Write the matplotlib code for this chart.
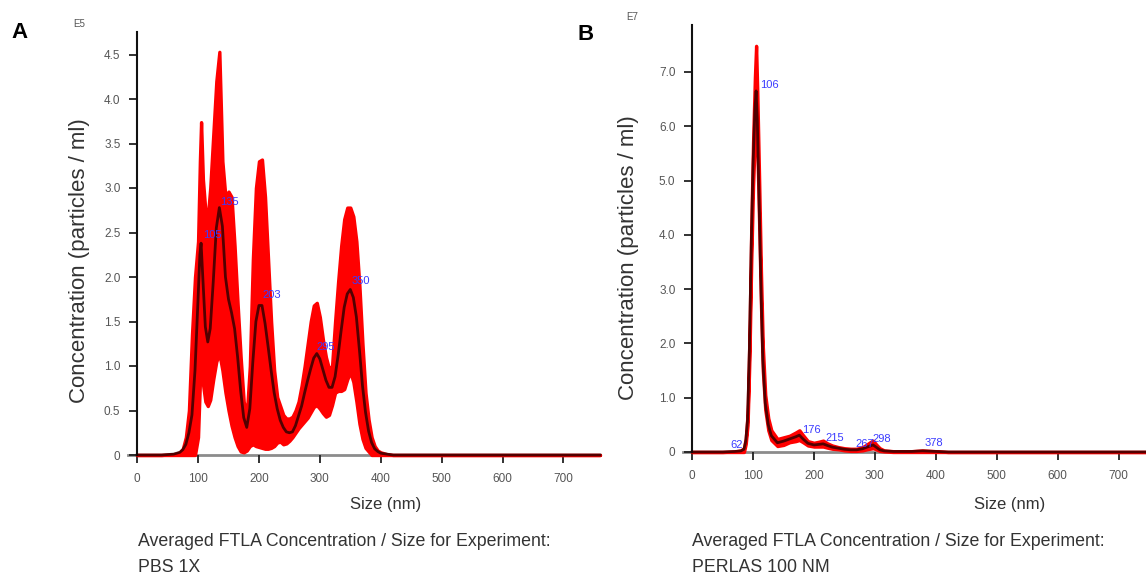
import matplotlib
matplotlib.use("Agg")
import matplotlib.pyplot as plt
import numpy as np

plt.rcParams['font.family'] = ['Liberation Sans', 'DejaVu Sans']

# ---------------- Panel A data (PBS 1X), concentration in E5 particles/ml ----------------
size_a = [0, 40, 60, 70, 75, 80, 85, 90, 95, 100, 103, 105, 108, 112, 116, 120, 125, 130, 135,
          140, 145, 150, 155, 160, 165, 170, 175, 180, 185, 190, 195, 200, 205, 210, 215, 220,
          225, 230, 235, 240, 245, 250, 255, 260, 265, 270, 275, 280, 285, 290, 295, 300, 305,
          310, 315, 320, 325, 330, 335, 340, 345, 350, 355, 360, 365, 370, 375, 380, 385, 390,
          395, 400, 410, 420, 450, 760]
mean_a = [0, 0, 0.01, 0.03, 0.06, 0.12, 0.25, 0.45, 0.95, 1.75, 2.25, 2.38, 1.97, 1.44, 1.27, 1.42,
          1.95, 2.55, 2.78, 2.57, 2.0, 1.75, 1.6, 1.42, 1.1, 0.72, 0.42, 0.31, 0.52, 1.05, 1.5,
          1.68, 1.68, 1.48, 1.22, 0.95, 0.7, 0.52, 0.39, 0.31, 0.26, 0.25, 0.26, 0.33, 0.44, 0.55,
          0.7, 0.84, 0.97, 1.09, 1.14, 1.08, 0.96, 0.84, 0.76, 0.76, 0.88, 1.12, 1.4, 1.66, 1.81,
          1.86, 1.77, 1.55, 1.18, 0.78, 0.48, 0.27, 0.14, 0.07, 0.04, 0.02, 0.01, 0, 0, 0]
upper_a = [0, 0, 0.01, 0.03, 0.07, 0.2, 0.5, 1.35, 2.0, 2.4, 3.3, 3.74, 3.1, 2.75, 2.68, 3.0,
           3.6, 4.2, 4.53, 3.3, 2.9, 2.96, 2.9, 2.35, 1.7, 1.1, 0.6, 0.45, 1.0, 2.2, 3.0,
           3.3, 3.32, 2.9, 2.2, 1.5, 0.95, 0.65, 0.55, 0.45, 0.41, 0.41, 0.43, 0.5, 0.6, 0.78,
           1.0, 1.25, 1.5, 1.68, 1.71, 1.55, 1.3, 1.1, 0.97, 1.0, 1.5, 1.95, 2.35, 2.65, 2.78,
           2.78, 2.68, 2.4, 1.9, 1.25, 0.7, 0.4, 0.2, 0.1, 0.05, 0.03, 0.01, 0, 0, 0]
lower_a = [0, 0, 0, 0, 0, 0, 0, 0, 0, 0.2, 0.8, 0.98, 0.8, 0.6, 0.55, 0.62,
           0.85, 1.05, 1.14, 0.95, 0.7, 0.5, 0.33, 0.2, 0.1, 0.04, 0.03, 0.05, 0.1, 0.12, 0.1,
           0.09, 0.08, 0.07, 0.07, 0.08, 0.1, 0.14, 0.15, 0.12, 0.13, 0.16, 0.2, 0.25, 0.3, 0.34,
           0.38, 0.42, 0.48, 0.54, 0.56, 0.52, 0.47, 0.43, 0.45, 0.56, 0.7, 0.72, 0.72, 0.74, 0.85,
           0.93, 0.82, 0.6, 0.35, 0.18, 0.08, 0.04, 0, 0, 0, 0, 0, 0, 0, 0]
peak_labels_a = ["105", "135", "203", "295", "350"]
peak_x_a = [108, 137, 205, 295, 352]
peak_y_a = [2.47, 2.84, 1.80, 1.21, 1.96]
yticks_a = [0, 0.5, 1.0, 1.5, 2.0, 2.5, 3.0, 3.5, 4.0, 4.5]
yticklabels_a = ["0", "0.5", "1.0", "1.5", "2.0", "2.5", "3.0", "3.5", "4.0", "4.5"]

# ---------------- Panel B data (PERLAS 100 NM), concentration in E7 particles/ml ----------------
size_b = [0, 50, 70, 80, 85, 88, 91, 94, 97, 100, 103, 105, 107, 110, 113, 116, 120, 125, 130,
          140, 150, 160, 170, 176, 182, 190, 200, 208, 215, 222, 230, 240, 250, 260, 270, 280,
          287, 292, 297, 302, 308, 315, 330, 360, 378, 400, 420, 745]
mean_b = [0, 0, 0.01, 0.02, 0.05, 0.2, 0.6, 1.9, 3.8, 5.3, 6.3, 6.65, 6.1, 4.6, 3.0, 1.7, 0.9,
          0.5, 0.3, 0.17, 0.2, 0.24, 0.28, 0.31, 0.24, 0.16, 0.13, 0.14, 0.15, 0.12, 0.09, 0.07,
          0.05, 0.04, 0.04, 0.06, 0.09, 0.11, 0.13, 0.09, 0.04, 0.02, 0.01, 0.01, 0.02, 0.01, 0, 0]
upper_b = [0, 0, 0.01, 0.03, 0.07, 0.25, 0.7, 2.1, 4.1, 5.7, 6.9, 7.48, 6.6, 5.0, 3.3, 1.95, 1.05,
           0.62, 0.4, 0.24, 0.27, 0.3, 0.36, 0.4, 0.31, 0.2, 0.17, 0.19, 0.21, 0.16, 0.12, 0.09,
           0.07, 0.06, 0.06, 0.09, 0.14, 0.18, 0.21, 0.14, 0.07, 0.03, 0.015, 0.015, 0.03, 0.015, 0, 0]
lower_b = [0, 0, 0, 0, 0, 0.15, 0.5, 1.7, 3.5, 4.9, 5.8, 6.0, 5.6, 4.2, 2.7, 1.5, 0.78,
           0.4, 0.22, 0.11, 0.13, 0.18, 0.2, 0.22, 0.18, 0.12, 0.1, 0.1, 0.1, 0.08, 0.06, 0.05,
           0.03, 0.02, 0.02, 0.03, 0.05, 0.06, 0.07, 0.05, 0.02, 0.01, 0, 0, 0, 0, 0, 0]
peak_labels_b = ["62", "106", "176", "215", "267", "298", "378"]
peak_x_b = [62, 111, 180, 218, 268, 296, 382]
peak_y_b = [0.13, 6.76, 0.41, 0.26, 0.15, 0.24, 0.17]
yticks_b = [0, 1.0, 2.0, 3.0, 4.0, 5.0, 6.0, 7.0]
yticklabels_b = ["0", "1.0", "2.0", "3.0", "4.0", "5.0", "6.0", "7.0"]

xticks = [0, 100, 200, 300, 400, 500, 600, 700]
xticklabels = ["0", "100", "200", "300", "400", "500", "600", "700"]

W, H = 1146, 578
fig = plt.figure(figsize=(W / 100, H / 100), dpi=100)


def px_axes(left_px, right_px, top_px, bottom_px):
    return fig.add_axes([left_px / W, 1 - bottom_px / H,
                         (right_px - left_px) / W, (bottom_px - top_px) / H])


def draw_panel(ax, x, mean, up, lo, xlim, ylim, yticks, yticklabels, labels, lx, ly):
    ax.fill_between(x, lo, up, color='#ff0000', edgecolor='#ff0000', linewidth=2.4,
                    zorder=2, clip_on=False)
    ax.plot(x, mean, color='#1a0000', linewidth=2.0, alpha=0.75, zorder=3,
            clip_on=False, solid_joinstyle='round')
    for t, xx, yy in zip(labels, lx, ly):
        ax.text(xx, yy, t, color='#3b3bff', fontsize=8, ha='left', va='center', zorder=4)
    ax.set_xlim(*xlim)
    ax.set_ylim(*ylim)
    ax.spines['top'].set_visible(False)
    ax.spines['right'].set_visible(False)
    ax.spines['left'].set_position(('data', 0))
    ax.spines['left'].set_color('#111111')
    ax.spines['left'].set_linewidth(1.5)
    ax.spines['bottom'].set_color('#8c8c8c')
    ax.spines['bottom'].set_linewidth(2.0)
    ax.spines['bottom'].set_zorder(1)
    ax.set_xticks(xticks)
    ax.set_xticklabels(xticklabels)
    ax.set_yticks(yticks)
    ax.set_yticklabels(yticklabels)
    ax.tick_params(axis='both', direction='out', length=6, width=1.3, color='#222222',
                   labelcolor='#555555', labelsize=8.5)
    ax.tick_params(axis='x', pad=7)
    ax.tick_params(axis='y', pad=6)
    ax.patch.set_alpha(0)


# Panel A
axA = px_axes(128, 600, 455 - 4.75 * 89, 455)
draw_panel(axA, size_a, mean_a, upper_a, lower_a, (-15, 760), (0, 4.75),
           yticks_a, yticklabels_a, peak_labels_a, peak_x_a, peak_y_a)
axA.set_ylabel("Concentration (particles / ml)", fontsize=16, color='#333333')
axA.yaxis.set_label_coords(-0.08, 0.46)
axA.set_xlabel("Size (nm)", fontsize=12, color='#333333')
axA.xaxis.set_label_coords(0.545, -0.1)

# Panel B
axB = px_axes(683, 1146, 452 - 7.86 * 54.3, 452)
draw_panel(axB, size_b, mean_b, upper_b, lower_b, (-15, 745), (0, 7.86),
           yticks_b, yticklabels_b, peak_labels_b, peak_x_b, peak_y_b)
axB.set_ylabel("Concentration (particles / ml)", fontsize=16, color='#333333')
axB.yaxis.set_label_coords(-0.096, 0.455)
axB.set_xlabel("Size (nm)", fontsize=12, color='#333333')
axB.xaxis.set_label_coords(0.706, -0.105)

# Panel letters and exponent markers
fig.text(20 / W, 1 - 33 / H, "A", fontsize=16, fontweight='bold', ha='center', va='center')
fig.text(586 / W, 1 - 35 / H, "B", fontsize=16, fontweight='bold', ha='center', va='center')
fig.text(79 / W, 1 - 24 / H, "E5", fontsize=7, color='#555555', ha='center', va='center')
fig.text(632 / W, 1 - 17 / H, "E7", fontsize=7, color='#555555', ha='center', va='center')

# Captions
for x0, name in [(138, "PBS 1X"), (692, "PERLAS 100 NM")]:
    fig.text(x0 / W, 1 - 541 / H, "Averaged FTLA Concentration / Size for Experiment:",
             fontsize=12.8, color='#333333', ha='left', va='center')
    fig.text(x0 / W, 1 - 567 / H, name, fontsize=12.8, color='#333333', ha='left', va='center')

fig.savefig("out.png", dpi=100, facecolor='white')
